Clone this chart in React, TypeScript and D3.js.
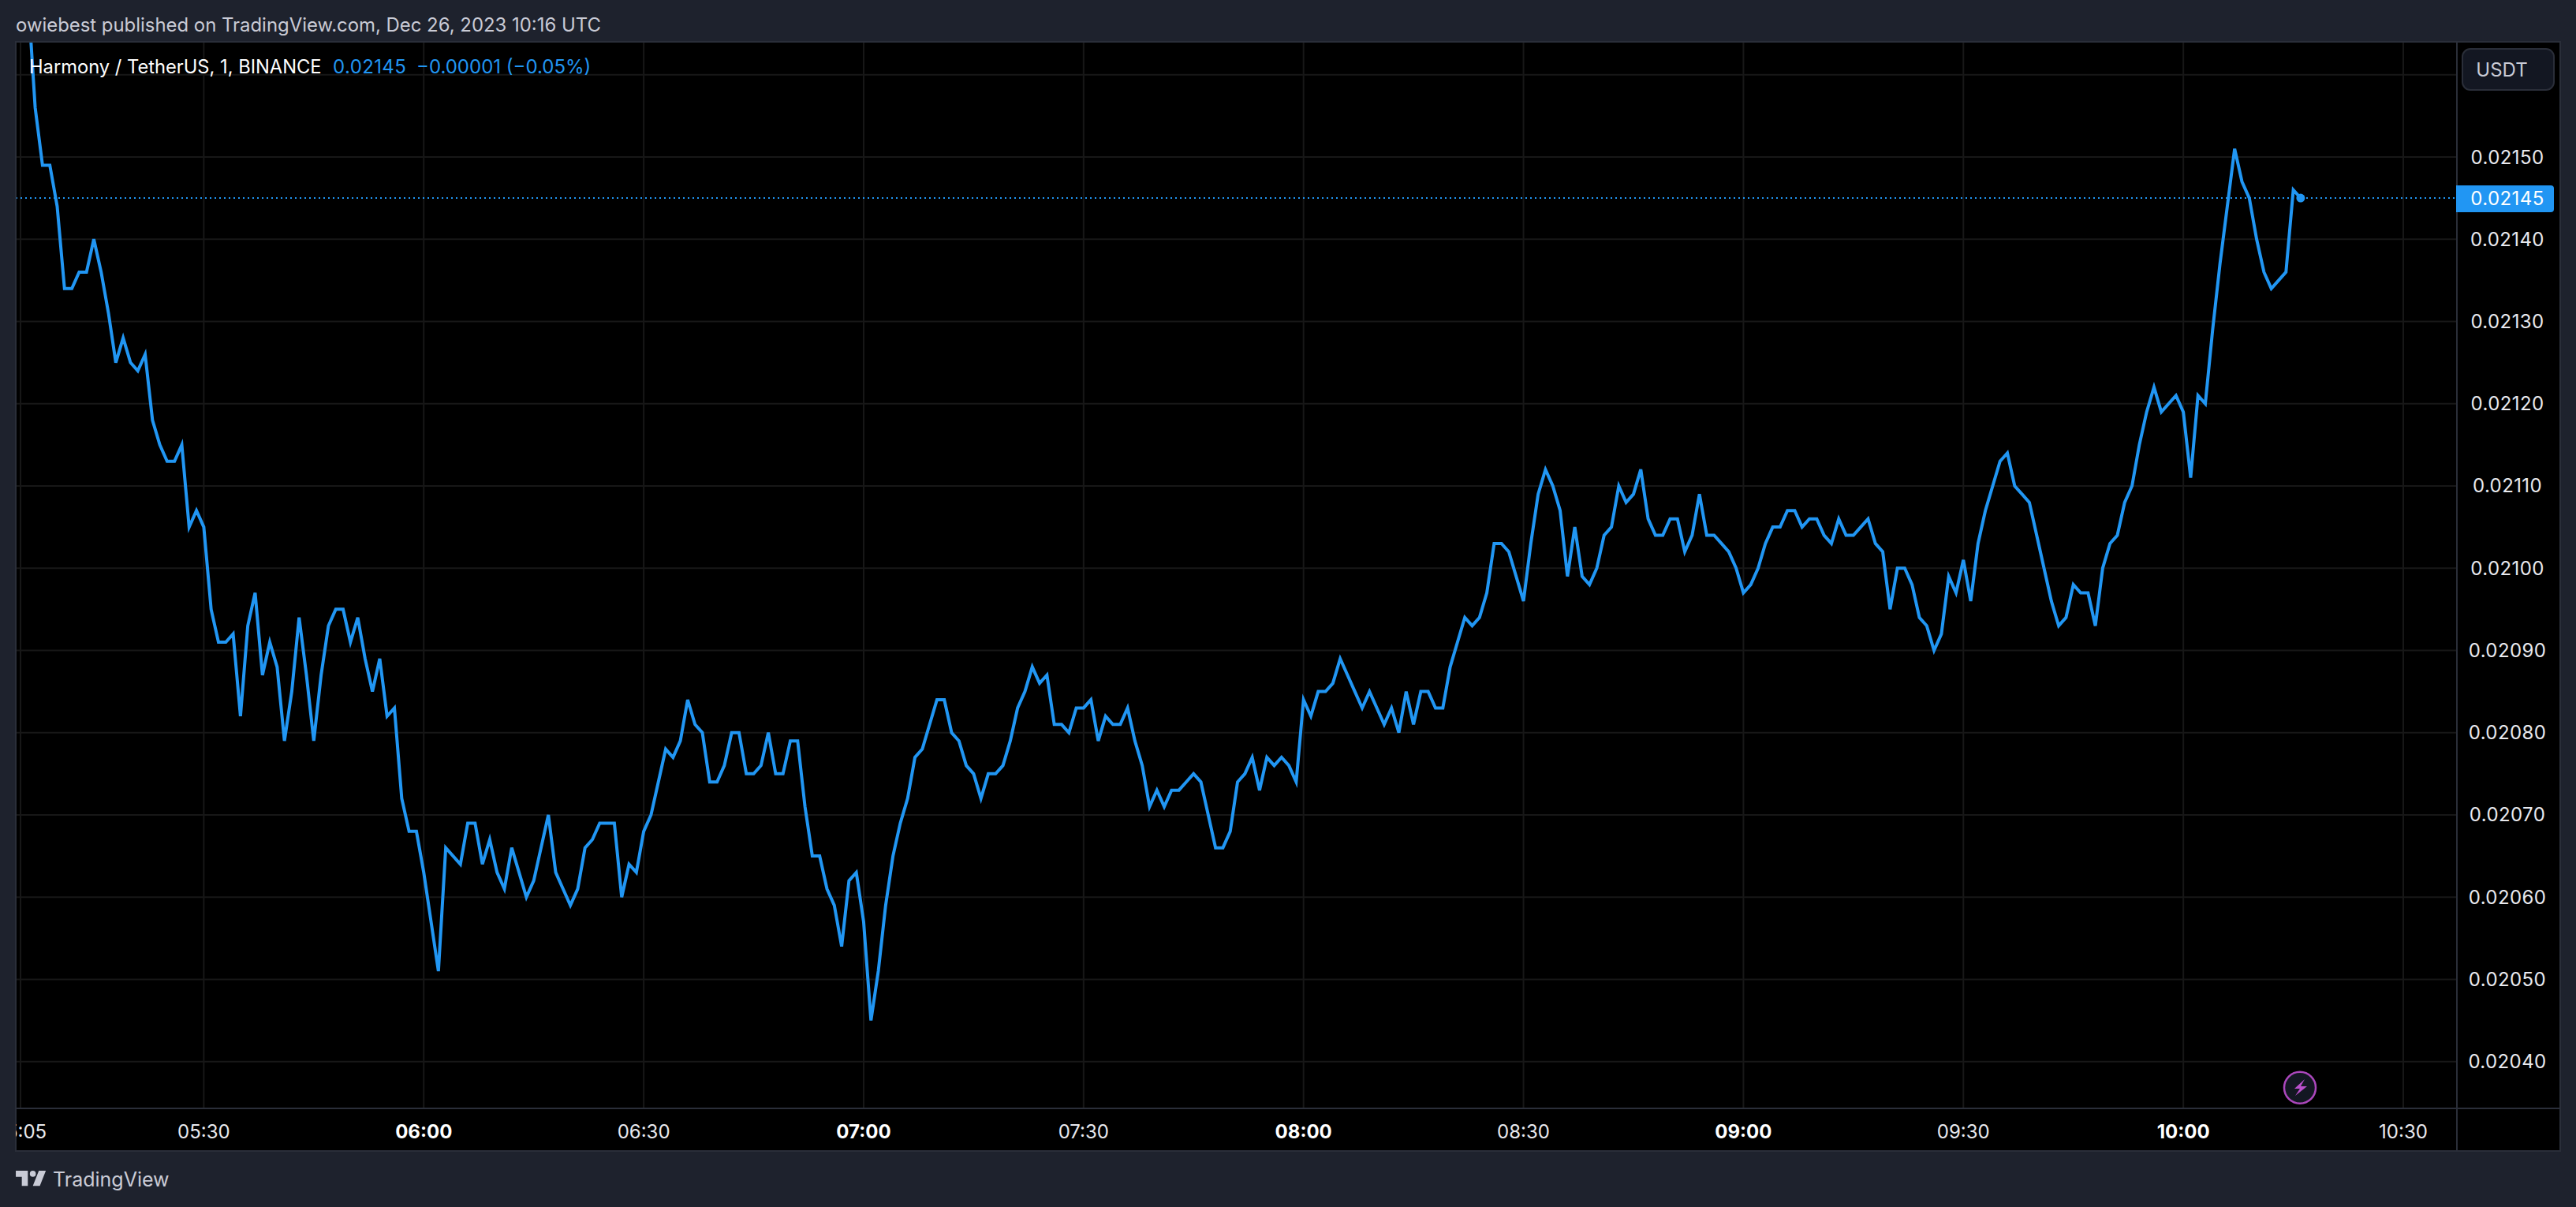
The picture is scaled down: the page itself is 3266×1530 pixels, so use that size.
import * as d3 from "d3";

// one close per minute, in units of 0.00001 USDT, from 05:05 to 10:16
const closeTicks: number[] = [
  2172, 2170, 2156, 2149, 2149, 2144, 2134, 2134, 2136, 2136, 2140, 2136, 2131, 2125, 2128, 2125, 2124, 2126, 2118, 2115,
  2113, 2113, 2115, 2105, 2107, 2105, 2095, 2091, 2091, 2092, 2082, 2093, 2097, 2087, 2091, 2088, 2079, 2085, 2094, 2087,
  2079, 2087, 2093, 2095, 2095, 2091, 2094, 2089, 2085, 2089, 2082, 2083, 2072, 2068, 2068, 2063, 2057, 2051, 2066, 2065,
  2064, 2069, 2069, 2064, 2067, 2063, 2061, 2066, 2063, 2060, 2062, 2066, 2070, 2063, 2061, 2059, 2061, 2066, 2067, 2069,
  2069, 2069, 2060, 2064, 2063, 2068, 2070, 2074, 2078, 2077, 2079, 2084, 2081, 2080, 2074, 2074, 2076, 2080, 2080, 2075,
  2075, 2076, 2080, 2075, 2075, 2079, 2079, 2071, 2065, 2065, 2061, 2059, 2054, 2062, 2063, 2057, 2045, 2051, 2059, 2065,
  2069, 2072, 2077, 2078, 2081, 2084, 2084, 2080, 2079, 2076, 2075, 2072, 2075, 2075, 2076, 2079, 2083, 2085, 2088, 2086,
  2087, 2081, 2081, 2080, 2083, 2083, 2084, 2079, 2082, 2081, 2081, 2083, 2079, 2076, 2071, 2073, 2071, 2073, 2073, 2074,
  2075, 2074, 2070, 2066, 2066, 2068, 2074, 2075, 2077, 2073, 2077, 2076, 2077, 2076, 2074, 2084, 2082, 2085, 2085, 2086,
  2089, 2087, 2085, 2083, 2085, 2083, 2081, 2083, 2080, 2085, 2081, 2085, 2085, 2083, 2083, 2088, 2091, 2094, 2093, 2094,
  2097, 2103, 2103, 2102, 2099, 2096, 2103, 2109, 2112, 2110, 2107, 2099, 2105, 2099, 2098, 2100, 2104, 2105, 2110, 2108,
  2109, 2112, 2106, 2104, 2104, 2106, 2106, 2102, 2104, 2109, 2104, 2104, 2103, 2102, 2100, 2097, 2098, 2100, 2103, 2105,
  2105, 2107, 2107, 2105, 2106, 2106, 2104, 2103, 2106, 2104, 2104, 2105, 2106, 2103, 2102, 2095, 2100, 2100, 2098, 2094,
  2093, 2090, 2092, 2099, 2097, 2101, 2096, 2103, 2107, 2110, 2113, 2114, 2110, 2109, 2108, 2104, 2100, 2096, 2093, 2094,
  2098, 2097, 2097, 2093, 2100, 2103, 2104, 2108, 2110, 2115, 2119, 2122, 2119, 2120, 2121, 2119, 2111, 2121, 2120, 2129,
  2137, 2144, 2151, 2147, 2145, 2140, 2136, 2134, 2135, 2136, 2146, 2145,
];

const priceTicks = [2160, 2150, 2140, 2130, 2120, 2110, 2100, 2090, 2080, 2070, 2060, 2050, 2040];
const timeTicks = ["05:05", "05:30", "06:00", "06:30", "07:00", "07:30", "08:00", "08:30", "09:00", "09:30", "10:00", "10:30"];
const hourTicks = ["06:00", "07:00", "08:00", "09:00", "10:00"];
const lastClose = 2145;

const BG = "#1e222d";
const BORDER = "#2a2e39";
const GRID = "#171717";
const BLUE = "#2196f3";
const FONT = "Inter, 'Liberation Sans', sans-serif";

const toMinutes = (t: string) => +t.slice(0, 2) * 60 + +t.slice(3);
const fmtPrice = (v: number) => (v / 100000).toFixed(5);

const plot = { left: 20, top: 53, right: 3115, bottom: 1405, outerRight: 3246, outerBottom: 1459 };

export default function App() {
  const x = d3.scaleLinear().domain([toMinutes("05:05"), toMinutes("10:30")]).range([26, 3047]);
  const y = d3.scaleLinear().domain([2040, 2150]).range([1345.7, 199]);

  const startMinute = toMinutes("05:05");
  const line = d3.line<number>()
    .x((_, i) => x(startMinute + i))
    .y(d => y(d));

  const lastX = x(startMinute + closeTicks.length - 1);

  return (
    <svg width={3266} height={1530} style={{ position: "absolute", left: 0, top: 0, display: "block" }} fontFamily={FONT}>
      <defs>
        <clipPath id="pane">
          <rect x={plot.left} y={plot.top} width={plot.right - plot.left} height={plot.bottom - plot.top} />
        </clipPath>
        <clipPath id="timeAxis">
          <rect x={plot.left} y={plot.bottom} width={plot.right - plot.left} height={plot.outerBottom - plot.bottom} />
        </clipPath>
      </defs>

      <rect width={3266} height={1530} fill={BG} />
      <rect x={plot.left} y={plot.top} width={plot.outerRight - plot.left} height={plot.outerBottom - plot.top} fill="#000" />

      <text x={20} y={40} fontSize={23.9} fill="#c9cbd6">owiebest published on TradingView.com, Dec 26, 2023 10:16 UTC</text>

      {/* grid */}
      <g stroke={GRID} strokeWidth={2}>
        {priceTicks.map(p => (
          <line key={p} x1={plot.left} x2={plot.right} y1={y(p)} y2={y(p)} />
        ))}
        {timeTicks.map(t => (
          <line key={t} x1={x(toMinutes(t))} x2={x(toMinutes(t))} y1={plot.top} y2={plot.bottom} />
        ))}
      </g>

      {/* last price line */}
      <line x1={plot.left} x2={plot.right} y1={y(lastClose)} y2={y(lastClose)} stroke={BLUE} strokeWidth={2} strokeDasharray="2 4" />

      <g clipPath="url(#pane)">
        <path d={line(closeTicks) ?? ""} fill="none" stroke={BLUE} strokeWidth={4} strokeLinejoin="miter" />
        <circle cx={lastX} cy={y(lastClose)} r={5.5} fill={BLUE} />
      </g>

      {/* legend */}
      <text x={37} y={93} fontSize={23.7} fill="#fff">Harmony / TetherUS, 1, BINANCE</text>
      <text x={422} y={93} fontSize={24} letterSpacing={0.4} fill={BLUE}>0.02145</text>
      <text x={528} y={93} fontSize={24} fill={BLUE}>−0.00001 (−0.05%)</text>

      {/* pane borders */}
      <g stroke={BORDER} strokeWidth={2} fill="none">
        <rect x={plot.left} y={plot.top} width={plot.outerRight - plot.left} height={plot.outerBottom - plot.top} />
        <line x1={plot.right} x2={plot.right} y1={plot.top} y2={plot.outerBottom} />
        <line x1={plot.left} x2={plot.outerRight} y1={plot.bottom} y2={plot.bottom} />
      </g>

      {/* price axis */}
      <g fontSize={24} letterSpacing={0.4} fill="#e8e9ee" textAnchor="middle">
        {priceTicks.slice(1).map(p => (
          <text key={p} x={3179} y={y(p) + 8.5}>{fmtPrice(p)}</text>
        ))}
      </g>
      <path d="M3114 235H3234a4 4 0 0 1 4 4V265a4 4 0 0 1-4 4H3114Z" fill={BLUE} />
      <text x={3179} y={y(lastClose) + 8.5} fontSize={24} letterSpacing={0.4} fill="#fff" textAnchor="middle">{fmtPrice(lastClose)}</text>

      <rect x={3122} y={62} width={116} height={52} rx={10} fill="#131722" stroke={BORDER} strokeWidth={2} />
      <text x={3172} y={97} fontSize={24} fill="#c9cbd6" textAnchor="middle">USDT</text>

      {/* time axis */}
      <g clipPath="url(#timeAxis)" fontSize={24} fill="#e8e9ee" textAnchor="middle">
        {timeTicks.map(t => (
          <text
            key={t}
            x={x(toMinutes(t))}
            y={1443}
            fontWeight={hourTicks.includes(t) ? 700 : 400}
            fill={hourTicks.includes(t) ? "#fff" : "#e8e9ee"}
          >
            {t}
          </text>
        ))}
      </g>

      {/* lightning badge */}
      <circle cx={2916} cy={1378.7} r={20} fill="#131722" stroke="#ab47bc" strokeWidth={2.5} />
      <path d="M2922 1368 L2909 1380 L2916 1380 L2910 1389 L2925 1377 L2917 1377 Z" fill="#ba50cc" />

      {/* footer logo */}
      <g transform="translate(17.5,1476.5) scale(1.27)" fill="#c9cbd6">
        <path d="M14 6H2v6h6v9h6V6Zm12 15h-7l6-15h7l-6 15Zm-7-9a3 3 0 1 0 0-6 3 3 0 0 0 0 6Z" />
      </g>
      <text x={67} y={1504} fontSize={25} fill="#c9cbd6">TradingView</text>
    </svg>
  );
}
